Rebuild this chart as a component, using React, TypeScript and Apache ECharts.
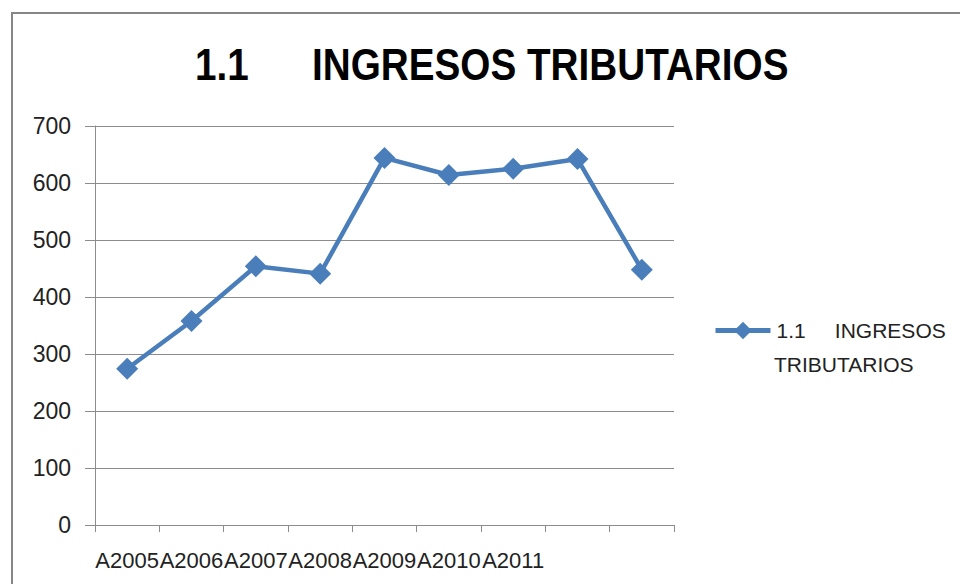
import React, { useEffect, useRef } from "react";
import * as echarts from "echarts";

const categories = ["A2005", "A2006", "A2007", "A2008", "A2009", "A2010", "A2011", "", ""];
const ingresos = [274, 358, 454, 441, 644, 614, 625, 642, 448];
const seriesName = "1.1     INGRESOS";
const seriesNameLine2 = "TRIBUTARIOS";
const titleNumber = "1.1";
const titleWords = "INGRESOS TRIBUTARIOS";

const titleFont = {
  fontFamily: "'Liberation Sans', Arial, sans-serif",
  fontWeight: "bold" as const,
  fontSize: 45,
  fill: "#000000",
};

export default function App() {
  const ref = useRef<HTMLDivElement>(null);

  useEffect(() => {
    if (!ref.current) return;
    const chart = echarts.init(ref.current, undefined, { renderer: "svg" });
    chart.setOption({
      animation: false,
      backgroundColor: "#ffffff",
      graphic: [
        {
          type: "rect",
          shape: { x: 12, y: 13, width: 1000, height: 620 },
          style: { fill: "none", stroke: "#868686", lineWidth: 2 },
          silent: true,
        },
        {
          type: "text",
          x: 195,
          y: 64,
          scaleX: 0.86,
          style: { ...titleFont, text: titleNumber, textAlign: "left", textVerticalAlign: "middle" },
          silent: true,
        },
        {
          type: "text",
          x: 312,
          y: 64,
          scaleX: 0.86,
          style: { ...titleFont, text: titleWords, textAlign: "left", textVerticalAlign: "middle" },
          silent: true,
        },
        {
          type: "text",
          x: 774,
          y: 364,
          style: {
            text: seriesNameLine2,
            fontFamily: "'Liberation Sans', sans-serif",
            fontSize: 21,
            fill: "#222222",
            textAlign: "left",
            textVerticalAlign: "middle",
          },
          silent: true,
        },
      ],
      legend: {
        left: 713,
        top: 320,
        padding: 0,
        itemWidth: 55,
        itemHeight: 22,
        itemGap: 0,
        lineStyle: { width: 5 },
        textStyle: {
          fontFamily: "'Liberation Sans', sans-serif",
          fontSize: 21,
          color: "#222222",
          padding: [0, 0, 0, 1],
        },
        data: [seriesName],
      },
      grid: { left: 95, right: 286, top: 126, bottom: 59, containLabel: false },
      xAxis: {
        type: "category",
        data: categories,
        boundaryGap: true,
        axisLine: { lineStyle: { color: "#8c8c8c", width: 1 } },
        axisTick: { show: true, length: 7, lineStyle: { color: "#8c8c8c" }, interval: 0 },
        axisLabel: {
          interval: 0,
          margin: 24,
          fontFamily: "'Liberation Sans', sans-serif",
          fontSize: 22,
          color: "#222222",
        },
        splitLine: { show: false },
      },
      yAxis: {
        type: "value",
        min: 0,
        max: 700,
        interval: 100,
        axisLine: { show: true, lineStyle: { color: "#8c8c8c", width: 1 } },
        axisTick: { show: true, length: 10, lineStyle: { color: "#8c8c8c" } },
        axisLabel: {
          margin: 24,
          fontFamily: "'Liberation Sans', sans-serif",
          fontSize: 23,
          color: "#222222",
        },
        splitLine: { show: true, lineStyle: { color: "#8c8c8c", width: 1 } },
      },
      series: [
        {
          name: seriesName,
          type: "line",
          data: ingresos,
          symbol: "diamond",
          symbolSize: 22,
          itemStyle: { color: "#4a7ebb" },
          lineStyle: { color: "#4a7ebb", width: 4.5 },
        },
      ],
    });
    return () => chart.dispose();
  }, []);

  return (
    <div
      ref={ref}
      style={{ position: "fixed", left: 0, top: 0, width: 960, height: 584 }}
    />
  );
}
